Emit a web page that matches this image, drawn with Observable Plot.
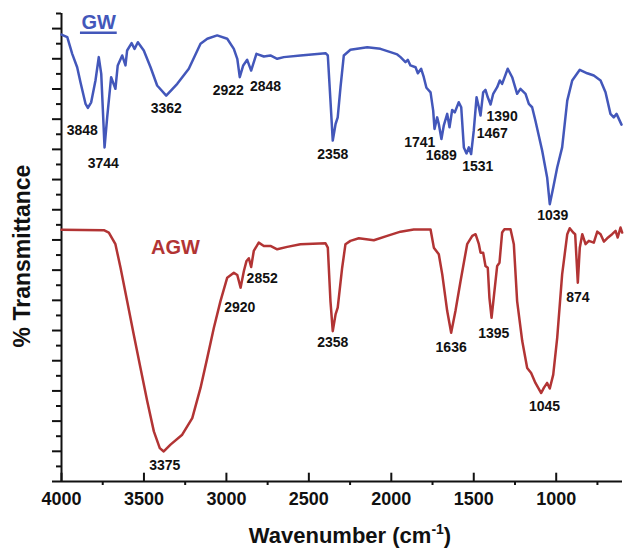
<!DOCTYPE html>
<html><head><meta charset="utf-8">
<script src="https://cdn.jsdelivr.net/npm/d3@7"></script>
<script src="https://cdn.jsdelivr.net/npm/@observablehq/plot@0.6"></script>
<style>body{margin:0;background:#fff} svg{display:block}</style>
</head><body><div id="chart"></div>
<script>
// GW spectrum (wavenumber cm-1, transmittance in arbitrary tick units)
const gwWave = [4000,3965,3935,3905,3885,3854,3840,3820,3794,3774,
3759,3739,3723,3699,3673,3659,3632,3612,3602,3575,
3557,3537,3501,3460,3420,3365,3298,3228,3157,3116,
3056,2995,2955,2934,2919,2898,2874,2850,2818,2773,
2733,2692,2652,2551,2399,2385,2369,2355,2338,2325,
2308,2288,2248,2146,2066,2005,1964,1944,1914,1900,
1884,1853,1839,1819,1803,1787,1762,1746,1738,1722,
1712,1696,1682,1661,1647,1631,1615,1591,1576,1560,
1544,1530,1516,1500,1483,1469,1459,1443,1429,1415,
1398,1382,1358,1342,1328,1294,1267,1237,1217,1186,
1166,1146,1126,1085,1055,1039,1018,994,964,933,
903,857,812,772,731,701,671,651,634,604];
const gwT = [29.6,29.43,28.33,27.44,26.45,25.01,24.75,25.12,26.56,28.11,
27.0,22.13,24.12,26.78,26.01,27.56,28.22,27.56,28.55,29.04,
28.66,29.1,28.55,27.44,26.23,25.56,26.34,27.34,29.0,29.33,
29.55,29.33,28.66,28.0,26.78,27.56,27.93,27.22,28.33,28.15,
28.22,28.0,28.11,28.22,28.37,28.22,25.23,22.58,23.68,24.12,
26.12,28.22,28.6,28.77,28.66,28.44,28.29,28.11,27.78,27.93,
27.56,27.44,27.04,27.34,26.78,26.08,25.78,24.57,23.35,24.12,
23.68,22.69,23.57,24.35,23.46,24.61,24.45,25.12,24.79,22.13,
21.73,22.13,21.69,23.24,25.45,24.79,24.24,25.78,25.94,25.45,
24.97,25.68,26.12,26.56,26.34,27.34,26.78,25.68,26.01,25.68,
25.01,24.79,23.9,21.91,20.14,18.37,19.47,20.8,22.13,25.23,
26.56,27.27,27.04,26.89,26.56,25.78,24.35,24.12,24.35,23.64];

// AGW spectrum
const agwWave = [4000,3743,3713,3673,3642,3602,3562,3521,3480,3440,
3404,3380,3339,3268,3207,3157,3116,3076,3036,2995,
2955,2934,2914,2894,2878,2864,2850,2834,2804,2773,
2733,2692,2631,2551,2399,2385,2369,2355,2338,2325,
2298,2278,2248,2197,2106,2025,1944,1864,1762,1742,
1712,1691,1661,1637,1611,1580,1540,1509,1489,1469,
1459,1443,1429,1415,1405,1392,1379,1358,1344,1328,
1314,1277,1257,1237,1206,1176,1152,1126,1091,1075,
1055,1039,1018,994,964,933,918,897,885,869,
857,842,822,802,772,751,731,711,691,661,
640,627,610,600];
const agwT = [16.67,16.65,16.49,15.72,14.16,11.95,9.74,7.52,5.31,3.32,
2.21,1.99,2.44,3.10,4.20,6.20,8.19,10.18,11.95,13.50,
13.83,13.68,12.84,13.94,14.61,14.79,14.21,15.27,15.82,15.60,
15.60,15.38,15.54,15.72,15.78,15.49,11.95,9.96,11.07,11.51,
14.16,15.72,15.94,16.11,15.98,16.27,16.55,16.69,16.69,15.49,
15.05,13.72,11.29,9.85,11.29,13.28,15.72,16.27,16.38,15.72,
15.16,15.16,14.28,14.16,12.17,10.84,12.17,14.28,14.49,16.49,
16.71,16.71,15.72,11.95,9.30,7.52,7.19,6.53,5.86,6.20,
6.53,6.16,7.08,9.52,13.72,16.38,16.78,16.49,16.38,13.17,
15.49,16.38,15.72,15.94,15.82,16.55,16.38,15.89,16.11,16.38,
16.60,16.16,16.82,16.49];

// Peak annotations
const gwLabels = ["3848","3744","3362","2922","2848","2358","1741","1689","1531","1467","1390","1039"];
const gwLabelWave = [3874,3747,3365,2989,2763,2355,1827,1697,1476,1388,1328,1021];
const gwLabelT = [23.24,21.07,24.68,25.90,26.16,21.69,22.46,21.58,20.85,23.02,24.17,17.64];
const agwLabels = ["3375","2920","2852","2358","1636","1395","1045","874"];
const agwLabelWave = [3374,2919,2783,2355,1637,1379,1071,869];
const agwLabelT = [1.04,11.55,13.43,9.18,8.85,9.78,4.98,12.17];

// Series names and their label positions
const seriesNames = ["GW", "AGW"];
const seriesNameWave = [3774, 3309];
const seriesNameT = [30.43, 15.49];
const gwUnderlineWave = [3885, 3662];
const gwUnderlineT = 29.73;

// Ticks
const xMajor = [4000,3500,3000,2500,2000,1500,1000];
const xMinor = [3750,3250,2750,2250,1750,1250,750];
const yMajor = d3.range(0, 31, 2);
const yMinor = d3.range(1, 32, 2);

const blue = "#4357BA", red = "#B23434";
const gw = gwWave.map((w, i) => ({w, t: gwT[i]}));
const agw = agwWave.map((w, i) => ({w, t: agwT[i]}));
const gwL = gwLabels.map((s, i) => ({s, w: gwLabelWave[i], t: gwLabelT[i]}));
const agwL = agwLabels.map((s, i) => ({s, w: agwLabelWave[i], t: agwLabelT[i]}));
const names = seriesNames.map((s, i) => ({s, w: seriesNameWave[i], t: seriesNameT[i], c: i ? red : blue}));
const font = "'Liberation Sans', Arial, sans-serif";

const plot = Plot.plot({
  width: 624, height: 549,
  marginLeft: 61, marginRight: 2, marginTop: 13, marginBottom: 68,
  style: {fontFamily: font, background: "white", color: "#111"},
  x: {domain: [4000, 598]},
  y: {domain: [0, 31]},
  marks: [
    Plot.axisX({ticks: xMinor, tickSize: 4, tickFormat: () => "", strokeWidth: 2, label: null}),
    Plot.axisX({ticks: xMajor, tickSize: 0, tickPadding: 11, fontSize: 18, fontWeight: "bold", tickFormat: d => String(d), label: null}),
    Plot.axisY({ticks: yMajor, tickSize: 9, tickFormat: () => "", strokeWidth: 2, label: null}),
    Plot.axisY({ticks: yMinor, tickSize: 5, tickFormat: () => "", strokeWidth: 2, label: null}),
    Plot.ruleX(xMajor, {x: d => d, y1: 0, y2: 0.55, stroke: "#111", strokeWidth: 2}),
    Plot.ruleY([0], {stroke: "#111", strokeWidth: 2}),
    Plot.ruleX([4000], {y1: 0, y2: 31, stroke: "#111", strokeWidth: 2}),
    Plot.line(gw, {x: "w", y: "t", stroke: blue, strokeWidth: 2.5}),
    Plot.line(agw, {x: "w", y: "t", stroke: red, strokeWidth: 2.5}),
    Plot.text(gwL, {x: "w", y: "t", text: "s", fontSize: 14, fontWeight: "bold", fill: "#111"}),
    Plot.text(agwL, {x: "w", y: "t", text: "s", fontSize: 14, fontWeight: "bold", fill: "#111"}),
    Plot.text(names, {x: "w", y: "t", text: "s", fontSize: 20, fontWeight: "bold", fill: "c"}),
    Plot.ruleY([gwUnderlineT], {x1: gwUnderlineWave[0], x2: gwUnderlineWave[1], stroke: blue, strokeWidth: 2.5})
  ]
});

const svg = d3.select(plot);
const xt = svg.append("text").attr("x", 350).attr("y", 543).attr("text-anchor", "middle")
  .attr("font-size", 22).attr("font-weight", "bold").attr("fill", "#111").attr("font-family", font);
xt.append("tspan").text("Wavenumber (cm");
xt.append("tspan").attr("dy", -9).attr("font-size", 14).text("-1");
xt.append("tspan").attr("dy", 9).attr("font-size", 22).text(")");
svg.append("text").attr("transform", "translate(30,256) rotate(-90)").attr("text-anchor", "middle")
  .attr("font-size", 23).attr("font-weight", "bold").attr("fill", "#111").attr("font-family", font)
  .text("% Transmittance");

document.getElementById("chart").appendChild(plot);
</script>
</body></html>
